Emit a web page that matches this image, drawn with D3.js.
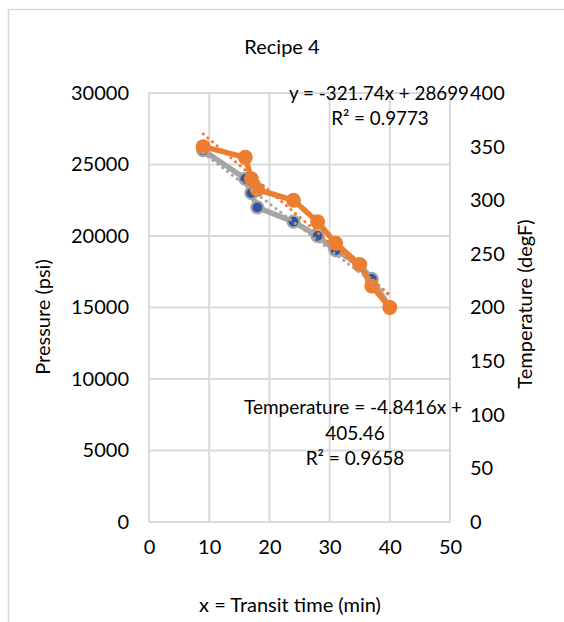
<!DOCTYPE html>
<html>
<head>
<meta charset="utf-8">
<script src="https://cdn.jsdelivr.net/npm/d3@7"></script>
<style>
  body { margin: 0; background: #fff; }
  text { font-family: Lato, "Liberation Sans", sans-serif; fill: #000; }
</style>
</head>
<body>
<svg width="564" height="622"></svg>
<script>
// data
var timeMin = [9, 16, 17, 18, 24, 28, 31, 35, 37, 40];
var pressure = [26000, 24000, 23000, 22000, 21000, 20000, 19000, 18000, 17000, 15000];
var temperature = [350, 340, 320, 310, 300, 280, 260, 240, 220, 200];
var xTicks = [0, 10, 20, 30, 40, 50];
var pTicks = [0, 5000, 10000, 15000, 20000, 25000, 30000];
var tTicks = [0, 50, 100, 150, 200, 250, 300, 350, 400];
// trendline fits shown on the chart
var pFit = [-321.74, 28699];
var tFit = [-4.8416, 405.46];

var svg = d3.select("svg");
var fs = 20;

// chart border
svg.append("rect").attr("x", 8.5).attr("y", 9.5).attr("width", 700).attr("height", 800)
  .attr("fill", "none").attr("stroke", "#d9d9d9").attr("stroke-width", 1.5);

var x = d3.scaleLinear().domain([0, 50]).range([149, 450]);
var yP = d3.scaleLinear().domain([0, 30000]).range([522, 93]);
var yT = d3.scaleLinear().domain([0, 400]).range([522, 93]);

// grid
svg.append("g").selectAll("line").data(xTicks).enter().append("line")
  .attr("x1", function(d){return x(d)}).attr("x2", function(d){return x(d)})
  .attr("y1", yP(0)).attr("y2", yP(30000))
  .attr("stroke", "#d9d9d9").attr("stroke-width", 2);
svg.append("g").selectAll("line").data(pTicks).enter().append("line")
  .attr("x1", x(0)).attr("x2", x(50))
  .attr("y1", function(d){return yP(d)}).attr("y2", function(d){return yP(d)})
  .attr("stroke", "#d9d9d9").attr("stroke-width", 2);

// axes (labels only)
var xAxis = svg.append("g").attr("transform", "translate(0," + (yP(0) + 18) + ")")
  .call(d3.axisBottom(x).tickValues(xTicks).tickSize(0).tickPadding(0));
var lAxis = svg.append("g").attr("transform", "translate(" + (x(0) - 20) + ",0)")
  .call(d3.axisLeft(yP).tickValues(pTicks).tickSize(0).tickPadding(0).tickFormat(d3.format("d")));
var rAxis = svg.append("g").attr("transform", "translate(" + (x(50) + 20) + ",0)")
  .call(d3.axisRight(yT).tickValues(tTicks).tickSize(0).tickPadding(0));
[xAxis, lAxis, rAxis].forEach(function(a){
  a.select(".domain").remove();
  a.selectAll("text").style("font-family", "Lato, 'Liberation Sans', sans-serif")
    .style("font-size", fs + "px").attr("fill", "#000");
});
xAxis.selectAll("text").attr("dy", "0.71em");

// pressure series
var pts = timeMin.map(function(t, i){return {t: t, p: pressure[i], T: temperature[i]}});
svg.append("path").datum(pts)
  .attr("d", d3.line().x(function(d){return x(d.t)}).y(function(d){return yP(d.p)}))
  .attr("fill", "none").attr("stroke", "#a5a5a5").attr("stroke-width", 5.5).attr("stroke-linejoin", "round");
svg.append("g").selectAll("circle").data(pts).enter().append("circle")
  .attr("cx", function(d){return x(d.t)}).attr("cy", function(d){return yP(d.p)})
  .attr("r", 6).attr("fill", "#2f56a0").attr("stroke", "#a5a5a5").attr("stroke-width", 2.2);

// temperature series
svg.append("path").datum(pts)
  .attr("d", d3.line().x(function(d){return x(d.t)}).y(function(d){return yT(d.T)}))
  .attr("fill", "none").attr("stroke", "#ed7d31").attr("stroke-width", 5.5).attr("stroke-linejoin", "round");
svg.append("g").selectAll("circle").data(pts).enter().append("circle")
  .attr("cx", function(d){return x(d.t)}).attr("cy", function(d){return yT(d.T)})
  .attr("r", 7.5).attr("fill", "#ed7d31");

// trendlines
var ext = d3.extent(timeMin);
svg.append("line")
  .attr("x1", x(ext[0])).attr("y1", yP(pFit[0] * ext[0] + pFit[1]))
  .attr("x2", x(ext[1])).attr("y2", yP(pFit[0] * ext[1] + pFit[1]))
  .attr("stroke", "#a5a5a5").attr("stroke-width", 3).attr("stroke-linecap", "round")
  .attr("stroke-dasharray", "0.1 6");
svg.append("line")
  .attr("x1", x(ext[0])).attr("y1", yT(tFit[0] * ext[0] + tFit[1]))
  .attr("x2", x(ext[1])).attr("y2", yT(tFit[0] * ext[1] + tFit[1]))
  .attr("stroke", "#ed7d31").attr("stroke-width", 3).attr("stroke-linecap", "round")
  .attr("stroke-dasharray", "0.1 6");

// text
function label(txt, cx, cy, rot, size) {
  var t = svg.append("text").attr("text-anchor", "middle").attr("dy", "0.35em")
    .style("font-size", (size || fs) + "px").text(txt);
  if (rot) t.attr("transform", "translate(" + cx + "," + cy + ") rotate(" + rot + ")");
  else t.attr("x", cx).attr("y", cy);
}
label("Recipe 4", 282, 47);
label("x = Transit time (min)", 290, 605);
label("Pressure (psi)", 43, 317, -90);
label("Temperature (degF)", 525, 304, -90);
label("y = " + pFit[0] + "x + " + pFit[1], 379, 93, 0, 18.8);
label("R² = 0.9773", 380, 118, 0, 18.8);
label("Temperature = " + tFit[0] + "x +", 353, 407, 0, 19);
label(tFit[1].toFixed(2), 355, 433, 0, 19);
label("R² = 0.9658", 355, 458, 0, 19);
</script>
</body>
</html>
